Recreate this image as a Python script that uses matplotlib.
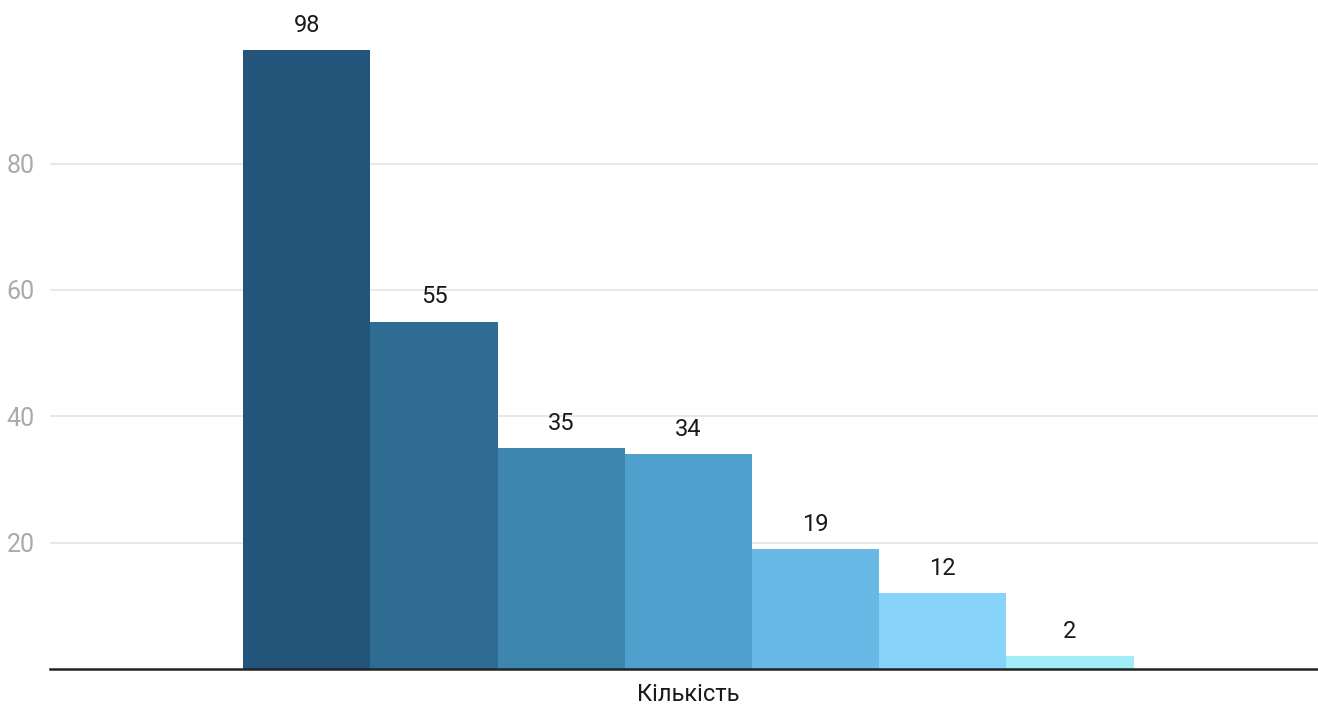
import matplotlib.pyplot as plt

# дані
series_values = [98, 55, 35, 34, 19, 12, 2]
category = 'Кількість'
bar_colors = ['#23547a', '#2f6c92', '#3d86b0', '#4fa0cd', '#68b9e5', '#87d4f8', '#a2ecfa']
y_ticks = [20, 40, 60, 80]

plt.rcParams['font.family'] = ['Roboto', 'DejaVu Sans']

fig = plt.figure(figsize=(13.18, 7.05), dpi=100)
ax = fig.add_axes([50 / 1318, 1 - 669 / 705, 1268 / 1318, 669 / 705])

for i, (v, c) in enumerate(zip(series_values, bar_colors)):
    ax.bar(i, v, width=1.0, align='edge', color=c, zorder=3)
    ax.text(i + 0.5, v + 2.1, str(v), ha='center', va='bottom', fontsize=17, color='#1a1a1a')

ax.set_xlim(-1.52, 8.45)
ax.set_ylim(0, 105.9)
ax.set_yticks(y_ticks)
ax.set_yticklabels([str(t) for t in y_ticks])
ax.tick_params(axis='y', length=0, pad=11, labelsize=18, labelcolor='#aaaaaa')
ax.set_xticks([3.5])
ax.set_xticklabels([category])
ax.tick_params(axis='x', length=0, pad=10, labelsize=17, labelcolor='#1a1a1a')
ax.grid(axis='y', color='#e6e6e6', linewidth=1.3, zorder=0)

for s in ['top', 'right', 'left']:
    ax.spines[s].set_visible(False)
ax.spines['bottom'].set_color('#222222')
ax.spines['bottom'].set_linewidth(1.8)
ax.spines['bottom'].set_zorder(4)

fig.savefig('out.png', dpi=100)
